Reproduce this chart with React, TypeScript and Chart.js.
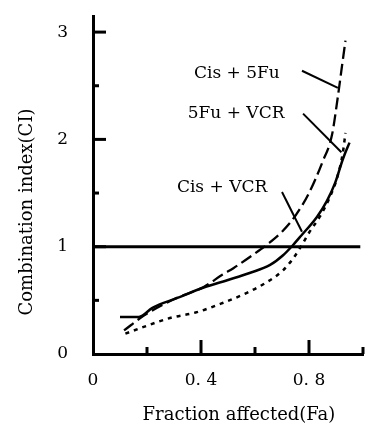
import React, { useEffect, useRef } from "react";
import { Chart, registerables } from "chart.js";

Chart.register(...registerables);

// ---- data ----
const cisVcrX = [0.10, 0.17, 0.22, 0.31, 0.41, 0.50, 0.58, 0.656, 0.704, 0.741, 0.77, 0.83, 0.867, 0.896, 0.926, 0.95];
const cisVcrY = [0.345, 0.345, 0.43, 0.52, 0.62, 0.69, 0.755, 0.83, 0.92, 1.016, 1.10, 1.28, 1.43, 1.59, 1.82, 1.97];

const cis5FuX = [0.115, 0.19, 0.30, 0.41, 0.48, 0.52, 0.59, 0.65, 0.70, 0.75, 0.80, 0.85, 0.885, 0.907, 0.922, 0.935];
const cis5FuY = [0.22, 0.36, 0.51, 0.625, 0.74, 0.80, 0.92, 1.03, 1.14, 1.29, 1.50, 1.79, 2.04, 2.40, 2.68, 2.92];

const fuVcrX = [0.12, 0.185, 0.285, 0.385, 0.48, 0.57, 0.644, 0.704, 0.741, 0.77, 0.80, 0.84, 0.875, 0.905, 0.925, 0.935];
const fuVcrY = [0.19, 0.25, 0.335, 0.39, 0.475, 0.57, 0.67, 0.78, 0.89, 1.0, 1.13, 1.28, 1.45, 1.65, 1.87, 2.06];

const refLineX = [0, 0.99];
const refLineY = [1, 1];

const xTickValues = [0, 0.4, 0.8];
const xTickLabels = ["0", "0. 4", "0. 8"];
const yTickValues = [0, 1, 2, 3];
const yTickLabels = ["0", "1", "2", "3"];
const xMajorTicks = [0.4, 0.8];
const xMinorTicks = [0.2, 0.6, 1.0];
const yMajorTicks = [1, 2, 3];
const yMinorTicks = [0.5, 1.5, 2.5];

const seriesNames = ["Cis + 5Fu", "5Fu + VCR", "Cis + VCR"];
// annotation anchors in data coordinates: text centre, leader start, leader end
const annotations = [
  { text: seriesNames[0], tx: 0.533, ty: 2.61, x1: 0.774, y1: 2.64, x2: 0.907, y2: 2.48 },
  { text: seriesNames[1], tx: 0.53, ty: 2.24, x1: 0.778, y1: 2.24, x2: 0.92, y2: 1.88 },
  { text: seriesNames[2], tx: 0.478, ty: 1.55, x1: 0.70, y1: 1.51, x2: 0.774, y2: 1.14 },
];

const xTitle = "Fraction affected(Fa)";
const yTitle = "Combination index(CI)";

const FONT = "'DejaVu Serif', 'Liberation Serif', serif";

function pts(xs: number[], ys: number[]) {
  return xs.map((x, i) => ({ x, y: ys[i] }));
}

const decorPlugin = {
  id: "decor",
  afterDraw(chart: any) {
    const ctx = chart.ctx as CanvasRenderingContext2D;
    const xs = chart.scales.x;
    const ys = chart.scales.y;
    const area = chart.chartArea;
    ctx.save();
    ctx.strokeStyle = "#000";
    ctx.fillStyle = "#000";
    ctx.lineCap = "butt";
    // inside ticks
    ctx.lineWidth = 3;
    const drawX = (v: number, len: number) => {
      const px = xs.getPixelForValue(v);
      ctx.beginPath();
      ctx.moveTo(px, area.bottom);
      ctx.lineTo(px, area.bottom - len);
      ctx.stroke();
    };
    const drawY = (v: number, len: number) => {
      const py = ys.getPixelForValue(v);
      ctx.beginPath();
      ctx.moveTo(area.left, py);
      ctx.lineTo(area.left + len, py);
      ctx.stroke();
    };
    xMajorTicks.forEach((v) => drawX(v, 14));
    xMinorTicks.forEach((v) => drawX(v, 7));
    yMajorTicks.forEach((v) => drawY(v, 13));
    yMinorTicks.forEach((v) => drawY(v, 6));

    // annotations
    ctx.font = `17px ${FONT}`;
    ctx.textAlign = "center";
    ctx.textBaseline = "middle";
    ctx.lineWidth = 2;
    annotations.forEach((a) => {
      ctx.fillText(a.text, xs.getPixelForValue(a.tx), ys.getPixelForValue(a.ty));
      ctx.beginPath();
      ctx.moveTo(xs.getPixelForValue(a.x1), ys.getPixelForValue(a.y1));
      ctx.lineTo(xs.getPixelForValue(a.x2), ys.getPixelForValue(a.y2));
      ctx.stroke();
    });

    // axis titles
    ctx.font = `18px ${FONT}`;
    ctx.fillText(xTitle, 239, 415);
    ctx.translate(27, 212);
    ctx.rotate(-Math.PI / 2);
    ctx.fillText(yTitle, 0, 0);
    ctx.restore();
  },
};

export default function App() {
  const ref = useRef<HTMLCanvasElement | null>(null);
  useEffect(() => {
    document.body.style.margin = "0";
    const canvas = ref.current!;
    const lineBase = { borderColor: "#000", pointRadius: 0, fill: false, cubicInterpolationMode: "monotone" as const };
    const chart = new Chart(canvas, {
      type: "line",
      data: {
        datasets: [
          { ...lineBase, label: seriesNames[2], data: pts(cisVcrX, cisVcrY), borderWidth: 2.5 },
          { ...lineBase, label: seriesNames[0], data: pts(cis5FuX, cis5FuY), borderWidth: 2.3, borderDash: [12, 5] },
          { ...lineBase, label: seriesNames[1], data: pts(fuVcrX, fuVcrY), borderWidth: 2.5, borderDash: [4, 5] },
          { ...lineBase, label: "CI = 1", data: pts(refLineX, refLineY), borderWidth: 3, tension: 0, cubicInterpolationMode: "default" as const },
        ],
      },
      options: {
        responsive: false,
        animation: false,
        layout: { padding: { left: 0, right: 5, top: 16, bottom: 0 } },
        plugins: { legend: { display: false }, tooltip: { enabled: false } },
        scales: {
          x: {
            type: "linear",
            min: 0,
            max: 1,
            grid: { display: false, drawTicks: false },
            border: { display: true, color: "#000", width: 3 },
            ticks: {
              padding: 16,
              color: "#000",
              font: { family: FONT, size: 17 },
              maxRotation: 0,
              autoSkip: false,
              callback: (v: any) => {
                const i = xTickValues.findIndex((t) => Math.abs(t - Number(v)) < 1e-6);
                return i >= 0 ? xTickLabels[i] : "";
              },
            },
            afterBuildTicks: (s: any) => { s.ticks = xTickValues.map((value) => ({ value })); },
            afterFit: (s: any) => { s.height = 73; s.paddingLeft = 0; s.paddingRight = 0; },
          },
          y: {
            type: "linear",
            min: 0,
            max: 3.15,
            grid: { display: false, drawTicks: false },
            border: { display: true, color: "#000", width: 3 },
            ticks: {
              padding: 25,
              color: "#000",
              font: { family: FONT, size: 17 },
              autoSkip: false,
              callback: (v: any) => {
                const i = yTickValues.findIndex((t) => Math.abs(t - Number(v)) < 1e-6);
                return i >= 0 ? yTickLabels[i] : "";
              },
            },
            afterBuildTicks: (s: any) => { s.ticks = yTickValues.map((value) => ({ value })); },
            afterFit: (s: any) => { s.width = 93; s.paddingTop = 0; s.paddingBottom = 0; },
          },
        },
      },
      plugins: [decorPlugin],
    });
    return () => chart.destroy();
  }, []);
  return <canvas ref={ref} width={368} height={427} style={{ display: "block" }} />;
}
